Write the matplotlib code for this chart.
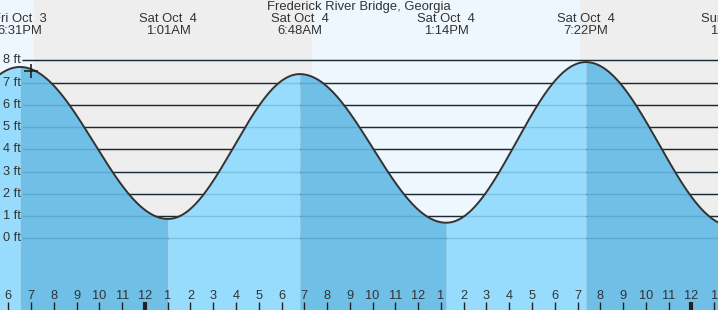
import numpy as np
import matplotlib
matplotlib.use("Agg")
import matplotlib.pyplot as plt

plt.rcParams['font.family'] = ['Liberation Sans', 'DejaVu Sans']

title = "Frederick River Bridge, Georgia"
# tide extremes: hours since Fri Oct 3 00:00, heights in ft
tide_times = [12.25, 18.517, 25.017, 30.8, 37.233, 43.367, 49.783, 56.0]
tide_heights = [0.9, 7.7, 0.87, 7.38, 0.7, 7.92, 0.55, 7.5]
tide_labels = ["", "Fri Oct  3\n6:31PM", "Sat Oct  4\n1:01AM", "Sat Oct  4\n6:48AM",
               "Sat Oct  4\n1:14PM", "Sat Oct  4\n7:22PM", "Sun Oct  5\n1:47AM", ""]
# day/night changes (hours since Fri 00:00)
sunset_fri = 19.13
sunrise_sat = 31.34
sunset_sat = 43.11
# "now" marker
now_time = 18.99
now_height = 7.54
# hour ticks
hour_ticks = list(range(18, 50))
ytick_values = [0, 1, 2, 3, 4, 5, 6, 7, 8]

W, H = 718, 310
PX_PER_HR = 22.77
X0_PX = 8.3       # pixel of 6PM Fri
Y0_PX = 238.3     # pixel of 0 ft
PX_PER_FT = 22.25

def t_of_px(x):
    return 18 + (x - X0_PX) / PX_PER_HR

def ft_of_px(y):
    return (Y0_PX - y) / PX_PER_FT

fig = plt.figure(figsize=(W / 100, H / 100), dpi=100)
ax = fig.add_axes([0, 0, 1, 1])
xmin, xmax = t_of_px(0), t_of_px(W)
ymin, ymax = ft_of_px(H), ft_of_px(0)
ax.set_xlim(xmin, xmax)
ax.set_ylim(ymin, ymax)
ax.axis('off')

DAY_BG = '#EEF6FE'
NIGHT_BG = '#EEEEEE'
LIGHT_FILL = '#97DCFC'
DARK_FILL = '#70BFE6'
TXT = '#333333'

ax.axvspan(xmin, sunset_fri, color=DAY_BG, zorder=0, lw=0)
ax.axvspan(sunset_fri, sunrise_sat, color=NIGHT_BG, zorder=0, lw=0)
ax.axvspan(sunrise_sat, sunset_sat, color=DAY_BG, zorder=0, lw=0)
ax.axvspan(sunset_sat, xmax, color=NIGHT_BG, zorder=0, lw=0)

# gridlines
grid_start = t_of_px(22)
ax.hlines(ytick_values, grid_start, xmax, colors='#222222', lw=1.0, zorder=1)

# tide curve (cosine between extremes)
all_t, all_h = [], []
for i in range(len(tide_times) - 1):
    t0, t1 = tide_times[i], tide_times[i + 1]
    h0, h1 = tide_heights[i], tide_heights[i + 1]
    tt = np.linspace(t0, t1, 200)
    hh = h0 + (h1 - h0) * (1 - np.cos(np.pi * (tt - t0) / (t1 - t0))) / 2
    color = DARK_FILL if h1 < h0 else LIGHT_FILL
    ax.fill_between(tt, ymin, hh, color=color, lw=0, zorder=2)
    all_t.append(tt)
    all_h.append(hh)
all_t = np.concatenate(all_t)
all_h = np.concatenate(all_h)

ax.hlines(ytick_values, grid_start, xmax, colors=(0.0, 0.3, 0.5), alpha=0.18, lw=1.0, zorder=3)
ax.plot(all_t, all_h, color='#333333', lw=1.4, zorder=4)

ax.plot([now_time], [now_height], marker='+', color='#222222', ms=10, mew=1.2, zorder=5)

# y labels
for v in ytick_values:
    ax.text(t_of_px(20.5), v, f"{v} ft", ha='right', va='center', fontsize=9.2, color=TXT, zorder=6)

# title and tide labels
def yfrac(ypx):
    return 1 - ypx / H

ax.text(0.5, yfrac(7), title, transform=ax.transAxes, ha='center', va='center',
        fontsize=9.4, color=TXT, zorder=6)
for t, lab in zip(tide_times, tide_labels):
    if not lab:
        continue
    l1, l2 = lab.split("\n")
    ax.text(t, yfrac(19), l1, transform=ax.get_xaxis_transform(), ha='center', va='center',
            fontsize=9.4, color=TXT, zorder=6)
    ax.text(t, yfrac(31), l2, transform=ax.get_xaxis_transform(), ha='center', va='center',
            fontsize=9.4, color=TXT, zorder=6)

# hour ticks
for h in hour_ticks:
    hr = h % 12
    lab = str(12 if hr == 0 else hr)
    midnight = (h % 24 == 0)
    ax.plot([h, h], [ft_of_px(302), ft_of_px(310)], color='#222222',
            lw=3 if midnight else 1, zorder=6, solid_capstyle='butt')
    ax.text(h, yfrac(296), lab, transform=ax.get_xaxis_transform(), ha='center', va='center',
            fontsize=9.2, color=TXT, zorder=6)

fig.savefig("out.png", dpi=100)
